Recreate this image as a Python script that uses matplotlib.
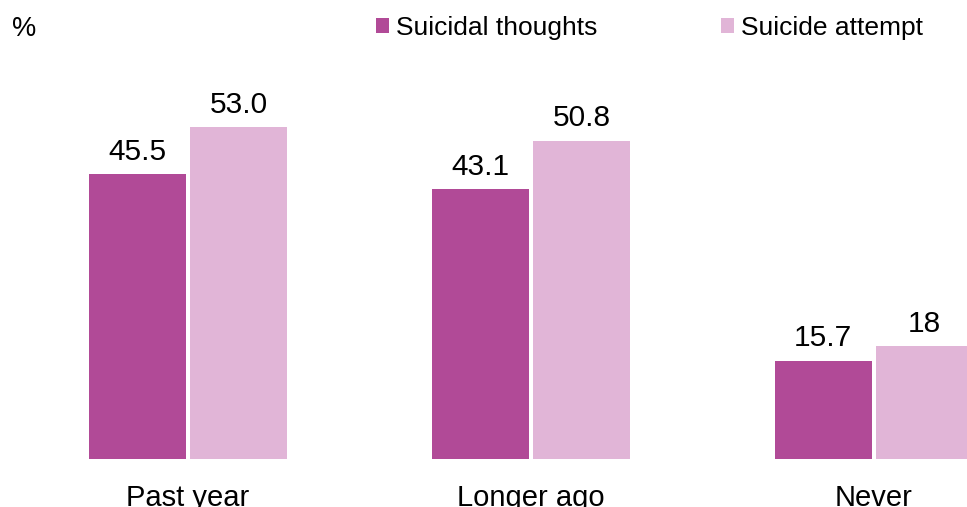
import matplotlib
matplotlib.use("Agg")
import matplotlib.pyplot as plt
import numpy as np

plt.rcParams['font.family'] = ['Liberation Sans', 'DejaVu Sans']

categories = ["Past year", "Longer ago", "Never"]
series_names = ["Suicidal thoughts", "Suicide attempt"]
thoughts = [45.5, 43.1, 15.7]
attempt = [53.0, 50.8, 18]
value_labels_thoughts = ["45.5", "43.1", "15.7"]
value_labels_attempt = ["53.0", "50.8", "18"]
colors = ["#B14A97", "#E1B5D7"]

fig = plt.figure(figsize=(9.67, 5.07), dpi=100)
ax = fig.add_axes([0, 48 / 507, 1, 459 / 507])

x = np.arange(len(categories))
w = 0.283
off = 0.148
b1 = ax.bar(x - off, thoughts, w, color=colors[0], label=series_names[0])
b2 = ax.bar(x + off, attempt, w, color=colors[1], label=series_names[1])

for bars, labels in ((b1, value_labels_thoughts), (b2, value_labels_attempt)):
    for rect, lab in zip(bars, labels):
        ax.annotate(lab, (rect.get_x() + rect.get_width() / 2, rect.get_height()),
                    xytext=(0, 10.5), textcoords="offset points",
                    ha="center", va="baseline", fontsize=21.5)

ax.set_xlim(-188 / 343, 779 / 343)
ax.set_ylim(0, 459 / 6.26)
for s in ax.spines.values():
    s.set_visible(False)
ax.set_yticks([])
ax.set_xticks(x)
ax.set_xticklabels(categories, fontsize=21)
ax.tick_params(axis="x", length=0, pad=18)

fig.text(12 / 967, 1 - 29 / 507, "%", fontsize=19.5, ha="left", va="center")

leg = ax.legend(loc="center left", bbox_to_anchor=(376 / 967, 1 - 28 / 459),
                ncol=2, frameon=False, fontsize=19,
                handlelength=0.5, handleheight=0.5, handletextpad=0.25,
                columnspacing=4.7, borderaxespad=0, borderpad=0)

fig.savefig("out.png", dpi=100)
